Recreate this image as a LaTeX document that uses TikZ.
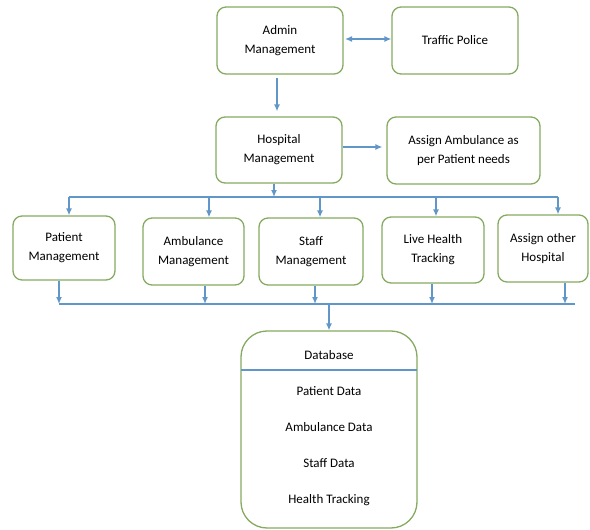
\documentclass[tikz,border=0pt]{standalone}
\usepackage{fontspec}
\setmainfont{Carlito}
\usepackage{xcolor}
\usetikzlibrary{arrows.meta}
\definecolor{boxgreen}{RGB}{134,170,96}
\definecolor{lineblue}{RGB}{96,150,200}

\begin{document}
\begin{tikzpicture}[x=1pt,y=-1pt]
        \tikzstyle{every node}+=[font=\fontsize{13}{19}\selectfont, align=center]
        \tikzstyle{box}=[draw=boxgreen, line width=1.3pt, rounded corners=9pt, inner sep=0pt]
        \tikzstyle{flow}=[draw=lineblue, line width=1.3pt]
        \tikzstyle{arr}=[flow, -{Latex[length=7pt,width=6pt]}]
        \useasboundingbox (0,0) rectangle (590,530);
        % top row
        \node [box, minimum width=126pt, minimum height=67pt] (admin) at (280,40.5) {Admin\\Management};
        \node [box, minimum width=126pt, minimum height=67pt] (police) at (455,40.5) {Traffic Police};
        \node [box, minimum width=126pt, minimum height=66pt] (hosp) at (279,150) {Hospital\\Management};
        \node [box, minimum width=153pt, minimum height=67pt] (assign) at (463.5,150.5) {Assign Ambulance as\\per Patient needs};
        % middle row
        \node [box, minimum width=102pt, minimum height=64pt] (patient) at (64,248) {Patient\\Management};
        \node [box, minimum width=101pt, minimum height=67pt] (ambul) at (193.5,251.5) {Ambulance\\Management};
        \node [box, minimum width=104pt, minimum height=67pt] (staff) at (311,251.5) {Staff\\Management};
        \node [box, minimum width=102pt, minimum height=66pt] (live) at (433,250) {Live Health\\Tracking};
        \node [box, minimum width=90pt, minimum height=67pt] (other) at (543,248.5) {Assign other\\Hospital};
        % database
        \node [box, rounded corners=26pt, minimum width=176pt, minimum height=197pt] (db) at (329,429.5) {};
        \node (dbtitle) at (329,355) {Database};
        \node (dbpat) at (329,391) {Patient Data};
        \node (dbamb) at (329,427) {Ambulance Data};
        \node (dbstaff) at (329,463) {Staff Data};
        \node (dbhealth) at (329,500) {Health Tracking};
        \coordinate (dl) at (241,370);
        \coordinate (dr) at (417,370);
        \draw [flow] (dl) -- (dr);
        % links
        \coordinate (ap) at (345,39);
        \coordinate (as) at (277,78);
        \coordinate (hs) at (343,147);
        \draw [flow, {Latex[length=7pt,width=6pt]}-{Latex[length=7pt,width=6pt]}] (ap) -- (ap -| police.west);
        \draw [arr] (as) -- ([yshift=5pt]as |- hosp.north);
        \draw [arr] (hs) -- ([xshift=-4pt]hs -| assign.west);
        % upper bus
        \coordinate (b0) at (274,197);
        \coordinate (b1) at (69,197);
        \coordinate (b2) at (209,197);
        \coordinate (b3) at (320,197);
        \coordinate (b4) at (436,197);
        \coordinate (b5) at (558,197);
        \draw [arr] (b0 |- hosp.south) -- (b0);
        \draw [flow] (b1) -- (b5);
        \draw [arr] (b1) -- (b1 |- patient.north);
        \draw [arr] (b2) -- (b2 |- ambul.north);
        \draw [arr] (b3) -- (b3 |- staff.north);
        \draw [arr] (b4) -- (b4 |- live.north);
        \draw [arr] (b5) -- (b5 |- other.north);
        % lower bus
        \coordinate (c1) at (59,304);
        \coordinate (c2) at (205,304);
        \coordinate (c3) at (315,304);
        \coordinate (c4) at (432,304);
        \coordinate (c5) at (565,304);
        \coordinate (c6) at (575,304);
        \coordinate (cd) at (329,304);
        \draw [flow] (c1) -- (c6);
        \draw [arr] (c1 |- patient.south) -- (c1);
        \draw [arr] (c2 |- ambul.south) -- (c2);
        \draw [arr] (c3 |- staff.south) -- (c3);
        \draw [arr] (c4 |- live.south) -- (c4);
        \draw [arr] (c5 |- other.south) -- (c5);
        \draw [arr] (cd) -- (db.north);
\end{tikzpicture}
\end{document}
